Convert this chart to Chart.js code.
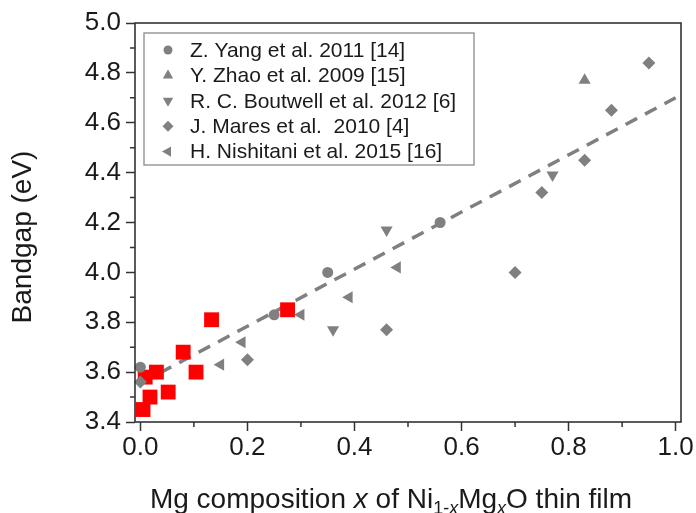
<!DOCTYPE html>
<html>
<head>
<meta charset="utf-8">
<script src="https://cdn.jsdelivr.net/npm/chart.js@4/dist/chart.umd.min.js"></script>
<style>
  html, body { margin: 0; padding: 0; background: #fff; }
  #wrap { width: 696px; height: 513px; position: relative; }
</style>
</head>
<body>
<div id="wrap"><canvas id="chart"></canvas></div>
<script>
/* Values */
var yangX = [0.0, 0.25, 0.35, 0.56];
var yangY = [3.62, 3.83, 4.00, 4.20];

var zhaoX = [0.83];
var zhaoY = [4.77];

var boutwellX = [0.36, 0.46, 0.77];
var boutwellY = [3.77, 4.17, 4.39];

var maresX = [0.0, 0.20, 0.46, 0.70, 0.75, 0.83, 0.88, 0.95];
var maresY = [3.56, 3.65, 3.77, 4.00, 4.32, 4.45, 4.65, 4.84];

var nishitaniX = [0.15, 0.19, 0.30, 0.39, 0.48];
var nishitaniY = [3.63, 3.72, 3.83, 3.90, 4.02];

// this work (red squares)
var workX = [0.005, 0.018, 0.009, 0.03, 0.052, 0.08, 0.104, 0.133, 0.275];
var workY = [3.45, 3.50, 3.58, 3.60, 3.52, 3.68, 3.60, 3.81, 3.85];

// dashed linear fit, end points
var fitX = [0.0, 1.0];
var fitY = [3.555, 4.70];

var xMajorTicks = [0.0, 0.2, 0.4, 0.6, 0.8, 1.0];
var xMinorTicks = [0.1, 0.3, 0.5, 0.7, 0.9];
var yMajorTicks = [3.4, 3.6, 3.8, 4.0, 4.2, 4.4, 4.6, 4.8, 5.0];
var yMinorTicks = [3.5, 3.7, 3.9, 4.1, 4.3, 4.5, 4.7, 4.9];

var legendLabels = [
  'Z. Yang et al. 2011 [14]',
  'Y. Zhao et al. 2009 [15]',
  'R. C. Boutwell et al. 2012 [6]',
  'J. Mares et al.  2010 [4]',
  'H. Nishitani et al. 2015 [16]'
];
var yTitle = 'Bandgap (eV)';

var FONT = '"Liberation Sans", Arial, sans-serif';
var GREY = '#808080';
var INK = '#1a1a1a';

function toPoints(xs, ys) {
  return xs.map(function(x, i) { return {x: x, y: ys[i]}; });
}

function greySet(label, xs, ys, style, rot, r, order) {
  return {
    label: label, data: toPoints(xs, ys),
    pointStyle: style, rotation: rot, pointRadius: r,
    backgroundColor: GREY, borderColor: GREY, borderWidth: 0,
    showLine: false, order: order, clip: false
  };
}

// legend marker shapes (small copies of the plot markers)
function drawMarker(ctx, style, rot, x, y, r) {
  ctx.beginPath();
  if (style === 'circle') {
    ctx.arc(x, y, r, 0, Math.PI * 2);
  } else if (style === 'rectRot') {
    ctx.moveTo(x, y - r); ctx.lineTo(x + r, y); ctx.lineTo(x, y + r); ctx.lineTo(x - r, y);
    ctx.closePath();
  } else {
    var a = rot * Math.PI / 180;
    for (var k = 0; k < 3; k++) {
      var px = x + Math.sin(a) * r, py = y - Math.cos(a) * r;
      if (k === 0) ctx.moveTo(px, py); else ctx.lineTo(px, py);
      a += 2 * Math.PI / 3;
    }
    ctx.closePath();
  }
  ctx.fill();
}

var legendMarkers = [
  ['circle', 0, 4.5],
  ['triangle', 0, 6],
  ['triangle', 180, 6],
  ['rectRot', 0, 5.5],
  ['triangle', 270, 6]
];

var decorPlugin = {
  id: 'decor',
  afterDraw: function(chart) {
    var ctx = chart.ctx, a = chart.chartArea;
    var xs = chart.scales.x, ys = chart.scales.y;
    ctx.save();

    // frame
    ctx.strokeStyle = '#333';
    ctx.lineWidth = 1.6;
    ctx.strokeRect(a.left, a.top, a.right - a.left, a.bottom - a.top);

    // minor ticks
    ctx.lineWidth = 1.5;
    ctx.beginPath();
    xMinorTicks.forEach(function(v) {
      var px = xs.getPixelForValue(v);
      ctx.moveTo(px, a.bottom); ctx.lineTo(px, a.bottom + 5);
    });
    yMinorTicks.forEach(function(v) {
      var py = ys.getPixelForValue(v);
      ctx.moveTo(a.left, py); ctx.lineTo(a.left - 5, py);
    });
    ctx.stroke();

    // legend box
    var lx = a.left + 9, ly = a.top + 10;
    ctx.fillStyle = '#fff';
    ctx.fillRect(lx, ly, 330, 132);
    ctx.strokeStyle = '#8a8a8a';
    ctx.lineWidth = 1.3;
    ctx.strokeRect(lx, ly, 330, 132);
    ctx.font = '21px ' + FONT;
    ctx.textBaseline = 'middle';
    ctx.textAlign = 'left';
    legendLabels.forEach(function(t, i) {
      var cy = ly + 17 + i * 25.4;
      var m = legendMarkers[i];
      ctx.fillStyle = GREY;
      drawMarker(ctx, m[0], m[1], lx + 24, cy, m[2]);
      ctx.fillStyle = INK;
      ctx.fillText(t, lx + 46, cy + 1);
    });

    // y title
    ctx.save();
    ctx.translate(23, 237);
    ctx.rotate(-Math.PI / 2);
    ctx.font = '28px ' + FONT;
    ctx.fillStyle = INK;
    ctx.textAlign = 'center';
    ctx.textBaseline = 'middle';
    ctx.fillText(yTitle, 0, 0);
    ctx.restore();

    // x title with italic x and subscripts
    var parts = [
      {t: 'Mg composition '},
      {t: 'x', it: true},
      {t: ' of Ni'},
      {t: '1-', sub: true},
      {t: 'x', sub: true, it: true},
      {t: 'Mg'},
      {t: 'x', sub: true, it: true},
      {t: 'O thin film'}
    ];
    function fontFor(p) {
      return (p.it ? 'italic ' : '') + (p.sub ? '18px ' : '28px ') + FONT;
    }
    var total = 0;
    parts.forEach(function(p) { ctx.font = fontFor(p); p.w = ctx.measureText(p.t).width; total += p.w; });
    var x0 = (a.left + a.right) / 2 - total / 2 - 17;
    var base = 508;
    ctx.fillStyle = INK;
    ctx.textAlign = 'left';
    ctx.textBaseline = 'alphabetic';
    parts.forEach(function(p) {
      ctx.font = fontFor(p);
      ctx.fillText(p.t, x0, base + (p.sub ? 6 : 0));
      x0 += p.w;
    });

    ctx.restore();
  }
};

var tickFont = {family: FONT, size: 26};

var chart = new Chart(document.getElementById('chart'), {
  type: 'scatter',
  data: {
    datasets: [
      {
        label: 'fit', data: toPoints(fitX, fitY), showLine: true,
        borderColor: GREY, borderWidth: 3.5, borderDash: [13, 9],
        pointRadius: 0, fill: false, order: 10, clip: false
      },
      {
        label: 'this work', data: toPoints(workX, workY),
        pointStyle: 'rect', pointRadius: 10.5,
        backgroundColor: '#ff0000', borderWidth: 0, order: 6, clip: false
      },
      greySet(legendLabels[0], yangX, yangY, 'circle', 0, 5.5, 4),
      greySet(legendLabels[1], zhaoX, zhaoY, 'triangle', 0, 7, 3),
      greySet(legendLabels[2], boutwellX, boutwellY, 'triangle', 180, 7, 2),
      greySet(legendLabels[3], maresX, maresY, 'rectRot', 0, 6.5, 1),
      greySet(legendLabels[4], nishitaniX, nishitaniY, 'triangle', 270, 7, 0)
    ]
  },
  options: {
    responsive: true,
    maintainAspectRatio: false,
    animation: false,
    events: [],
    layout: {padding: {top: 23, right: 15, left: 0, bottom: 0}},
    plugins: {legend: {display: false}, tooltip: {enabled: false}},
    scales: {
      x: {
        type: 'linear', min: -0.01, max: 1.01,
        afterBuildTicks: function(s) { s.ticks = xMajorTicks.map(function(v) { return {value: v}; }); },
        afterFit: function(s) { s.height = 91; },
        ticks: {
          callback: function(v) { return Number(v).toFixed(1); },
          color: INK, font: tickFont, padding: 1, maxRotation: 0, autoSkip: false
        },
        grid: {drawOnChartArea: false, tickLength: 9, tickWidth: 1.5, tickColor: '#333'},
        border: {display: false}
      },
      y: {
        type: 'linear', min: 3.4, max: 5.0,
        afterBuildTicks: function(s) { s.ticks = yMajorTicks.map(function(v) { return {value: v}; }); },
        afterFit: function(s) { s.width = 135; },
        ticks: {
          callback: function(v) { return Number(v).toFixed(1); },
          color: INK, font: tickFont, padding: 5, autoSkip: false
        },
        grid: {drawOnChartArea: false, tickLength: 9, tickWidth: 1.5, tickColor: '#333'},
        border: {display: false}
      }
    }
  },
  plugins: [decorPlugin]
});
</script>
</body>
</html>
